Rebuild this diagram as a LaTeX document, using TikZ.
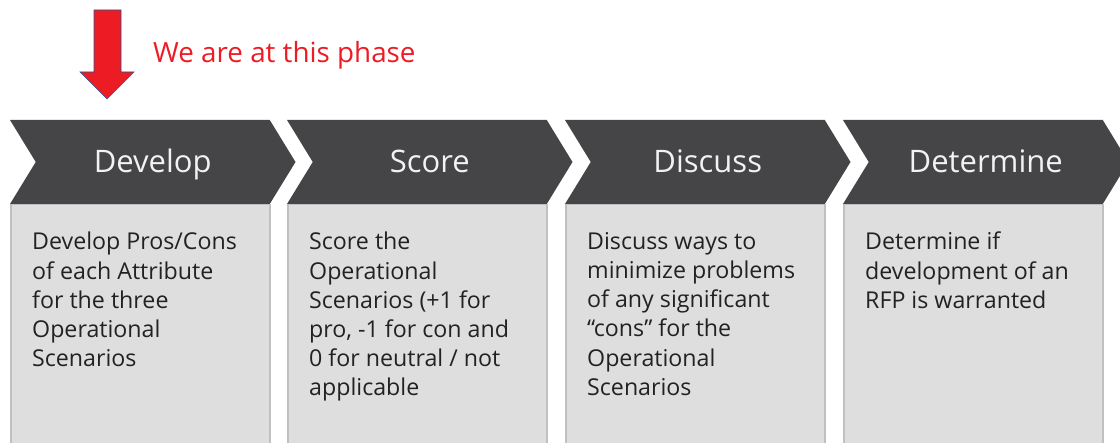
\documentclass[tikz,border=0pt]{standalone}
\usepackage{fontspec}
\setmainfont{Open Sans}
\usetikzlibrary{shapes.symbols}
\definecolor{phasegray}{HTML}{454547}
\definecolor{phasetext}{HTML}{F2F2F2}
\definecolor{boxgray}{HTML}{DEDEDE}
\definecolor{boxline}{HTML}{C0C0C0}
\definecolor{bodytext}{HTML}{222222}
\definecolor{herered}{HTML}{ED1C24}
\definecolor{arrowblue}{HTML}{2F528F}

\begin{document}
\begin{tikzpicture}[
    x=1pt, y=-1pt,
    phase/.style={signal, signal to=east, signal from=west, signal pointer angle=117,
                  fill=phasegray, text=phasetext, font=\fontsize{31}{36}\selectfont,
                  text height=22pt, text depth=0pt,
                  minimum width=285.5pt, minimum height=84pt, inner sep=0pt},
    panel/.style={rectangle, draw=boxline, line width=1.5pt, fill=boxgray, anchor=north west,
                  minimum width=259pt, minimum height=270pt, inner sep=0pt},
    note/.style={anchor=north west, align=left, text=bodytext, inner sep=0pt,
                 font=\fontsize{23.2}{29.2}\selectfont},
]
  \useasboundingbox (0,0) rectangle (1120,443);

  % marker
  \draw [fill=herered, draw=arrowblue, line width=0.6pt]
        (94,10) -- (121,10) -- (121,72) -- (134,72) -- (107,99) -- (80,72) -- (94,72) -- cycle;
  \node [anchor=base west, inner sep=0pt, text=herered, font=\fontsize{27.8}{32}\selectfont]
        (here) at (153,63) {We are at this phase};

  % boxes below the phases
  \node [panel]  (developbox)   at (10,204)   {};
  \node [panel]  (scorebox)     at (287,204)  {};
  \node [panel]  (discussbox)   at (565,204)  {};
  \node [panel]  (determinebox) at (843,204)  {};

  % phases
  \node [phase]  (develop)      at (152.75,162)  {Develop};
  \node [phase]  (score)        at (429.75,162)  {Score};
  \node [phase]  (discuss)      at (707.75,162)  {Discuss};
  \node [phase]  (determine)    at (985.75,162)  {Determine};

  % texts
  \node [note]   (developnote)   at (32,232)  {Develop Pros/Cons\\of each Attribute\\for the three\\Operational\\Scenarios};
  \node [note]   (scorenote)     at (309,232) {Score the\\Operational\\Scenarios (+1 for\\pro, -1 for con and\\0 for neutral / not\\applicable};
  \node [note]   (discussnote)   at (587,232) {Discuss ways to\\minimize problems\\of any significant\\“cons” for the\\Operational\\Scenarios};
  \node [note]   (determinenote) at (865,232) {Determine if\\development of an\\RFP is warranted};
\end{tikzpicture}
\end{document}
